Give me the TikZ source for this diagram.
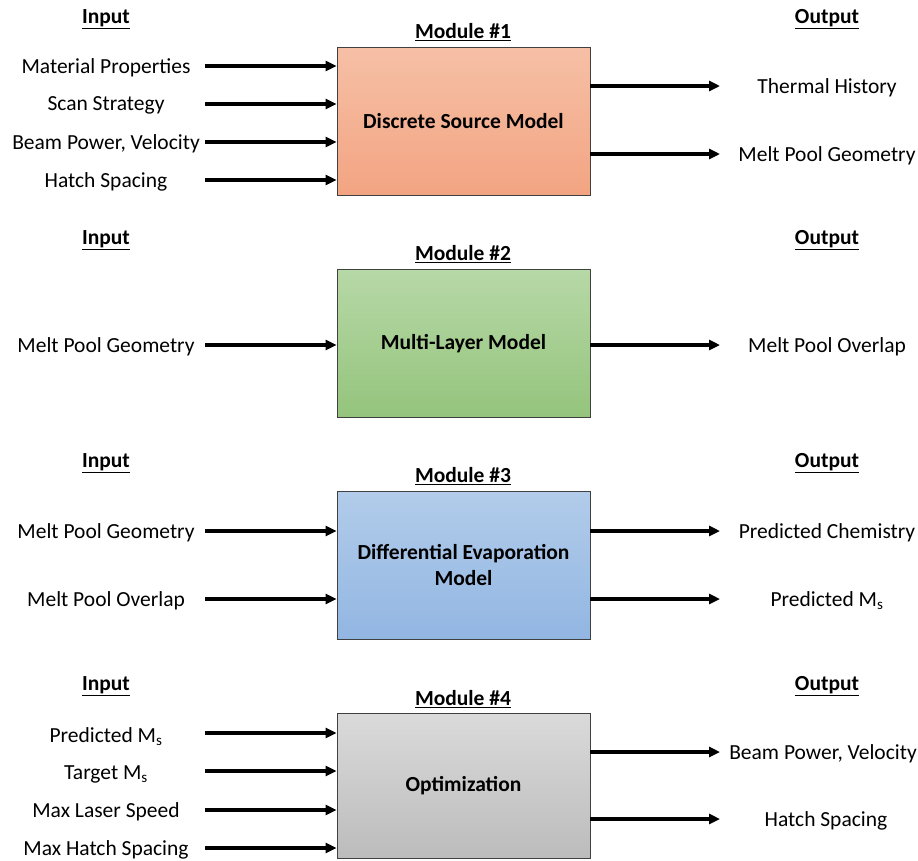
\documentclass[tikz,border=0pt]{standalone}
\usepackage{fontspec}
\setmainfont{Carlito}
\usetikzlibrary{arrows.meta,shadows}
\begin{document}
\begin{tikzpicture}[x=1pt,y=-1pt,
  lbl/.style={font=\fontsize{21.5}{25}\selectfont, inner sep=0pt, anchor=center, yshift=-1.5pt},
  hdr/.style={font=\fontsize{21.5}{25}\selectfont\bfseries, inner sep=0pt, anchor=center, yshift=-1pt},
  modbox/.style={draw=black!75, line width=0.9pt, minimum width=253pt, minimum height=148pt,
    inner sep=0pt, align=center, font=\fontsize{21.5}{26}\selectfont\bfseries,
    drop shadow={shadow xshift=0.8pt, shadow yshift=-0.8pt, opacity=0.35}},
  flow/.style={line width=3.2pt, -{Triangle[length=11pt,width=10pt]}}
]
\useasboundingbox (0,0) rectangle (918,860);

% ---------- Module 1 ----------
\node[hdr] (in1) at (106,18) {\underline{Input}};
\node[hdr] (out1) at (827,18) {\underline{Output}};
\node[hdr] (mh1) at (463,31) {\underline{Module \#1}};
\node[modbox, top color={rgb,255:red,246;green,192;blue,166}, bottom color={rgb,255:red,243;green,164;blue,130}]
  (m1) at (463.5,121) {Discrete Source Model};

\node[lbl] (a1) at (106,66) {Material Properties};
\node[lbl] (a2) at (106,104) {Scan Strategy};
\node[lbl] (a3) at (106,142) {Beam Power, Velocity};
\node[lbl] (a4) at (106,180) {Hatch Spacing};
\foreach \n/\y in {1/66,2/104,3/142,4/180}{
  \coordinate (sa\n) at (205,\y);
  \draw[flow] (sa\n) -- (sa\n -| m1.west);
}
\node[lbl] (b1) at (827,86) {Thermal History};
\node[lbl] (b2) at (827,154) {Melt Pool Geometry};
\foreach \n/\y in {1/86,2/154}{
  \coordinate (eb\n) at (720,\y);
  \draw[flow] (eb\n -| m1.east) -- (eb\n);
}

% ---------- Module 2 ----------
\node[hdr] (in2) at (106,239) {\underline{Input}};
\node[hdr] (out2) at (827,239) {\underline{Output}};
\node[hdr] (mh2) at (463,253) {\underline{Module \#2}};
\node[modbox, top color={rgb,255:red,183;green,216;blue,167}, bottom color={rgb,255:red,148;green,196;blue,124}]
  (m2) at (463.5,343.5) {Multi-Layer Model};
\node[lbl] (c1) at (106,345) {Melt Pool Geometry};
\coordinate (sc1) at (205,345);
\draw[flow] (sc1) -- (sc1 -| m2.west);
\node[lbl] (d1) at (827,345) {Melt Pool Overlap};
\coordinate (ed1) at (720,345);
\draw[flow] (ed1 -| m2.east) -- (ed1);

% ---------- Module 3 ----------
\node[hdr] (in3) at (106,462) {\underline{Input}};
\node[hdr] (out3) at (827,462) {\underline{Output}};
\node[hdr] (mh3) at (463,475) {\underline{Module \#3}};
\node[modbox, top color={rgb,255:red,178;green,204;blue,234}, bottom color={rgb,255:red,146;green,182;blue,226}]
  (m3) at (463.5,565) {Differential Evaporation\\Model};
\node[lbl] (e1) at (106,531) {Melt Pool Geometry};
\node[lbl] (e2) at (106,599) {Melt Pool Overlap};
\foreach \n/\y in {1/531,2/599}{
  \coordinate (se\n) at (205,\y);
  \draw[flow] (se\n) -- (se\n -| m3.west);
}
\node[lbl] (f1) at (827,531) {Predicted Chemistry};
\node[lbl] (f2) at (827,599) {Predicted M\textsubscript{s}};
\foreach \n/\y in {1/531,2/599}{
  \coordinate (ef\n) at (720,\y);
  \draw[flow] (ef\n -| m3.east) -- (ef\n);
}

% ---------- Module 4 ----------
\node[hdr] (in4) at (106,685) {\underline{Input}};
\node[hdr] (out4) at (827,685) {\underline{Output}};
\node[hdr] (mh4) at (463,698) {\underline{Module \#4}};
\node[modbox, minimum height=145pt, top color={rgb,255:red,218;green,218;blue,218}, bottom color={rgb,255:red,188;green,188;blue,188}]
  (m4) at (463.5,785.5) {Optimization};
\node[lbl] (g1) at (106,735) {Predicted M\textsubscript{s}};
\node[lbl] (g2) at (106,773) {Target M\textsubscript{s}};
\node[lbl] (g3) at (106,810) {Max Laser Speed};
\node[lbl] (g4) at (106,848) {Max Hatch Spacing};
\foreach \n/\y in {1/733,2/771,3/810,4/848}{
  \coordinate (sg\n) at (205,\y);
  \draw[flow] (sg\n) -- (sg\n -| m4.west);
}
\node[lbl] (h1) at (823,752) {Beam Power, Velocity};
\node[lbl] (h2) at (826,819) {Hatch Spacing};
\foreach \n/\y in {1/752,2/819}{
  \coordinate (eh\n) at (720,\y);
  \draw[flow] (eh\n -| m4.east) -- (eh\n);
}
\end{tikzpicture}
\end{document}
